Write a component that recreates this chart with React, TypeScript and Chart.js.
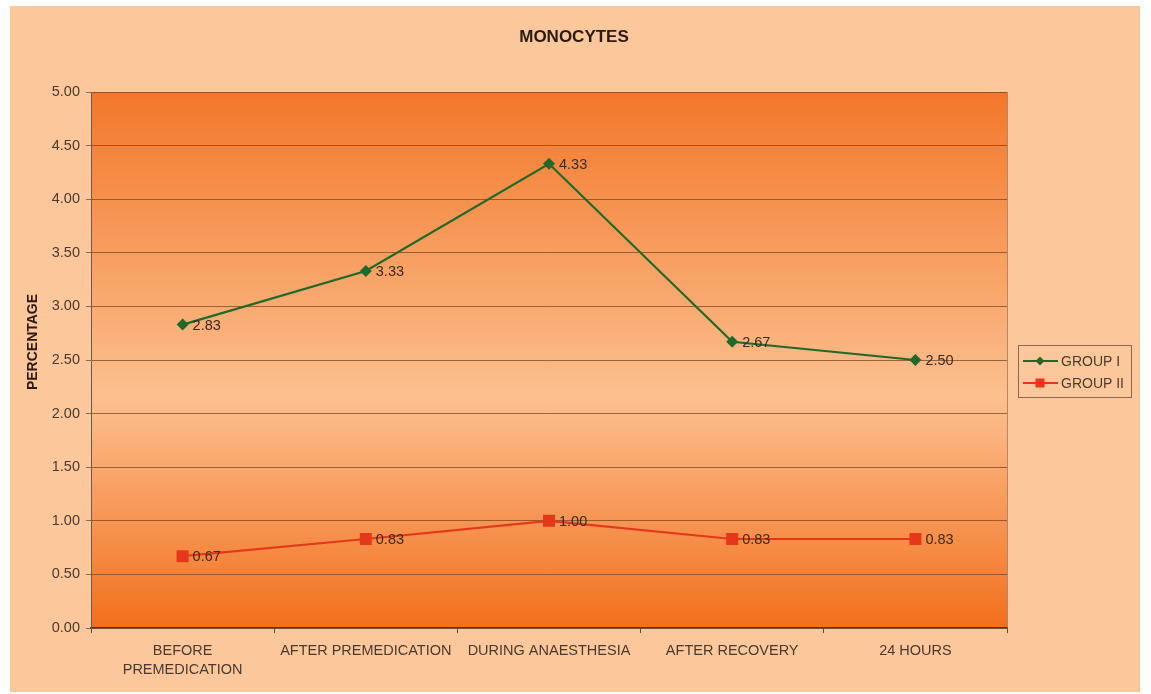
import React, { useEffect, useRef } from "react";
import { Chart, registerables } from "chart.js";

Chart.register(...registerables);

const categories: (string | string[])[] = [
  ["BEFORE", "PREMEDICATION"],
  "AFTER PREMEDICATION",
  "DURING ANAESTHESIA",
  "AFTER RECOVERY",
  "24 HOURS",
];
const groupOne = [2.83, 3.33, 4.33, 2.67, 2.5];
const groupTwo = [0.67, 0.83, 1.0, 0.83, 0.83];
const seriesNames = ["GROUP I", "GROUP II"];
const chartTitle = "MONOCYTES";
const yAxisTitle = "PERCENTAGE";

const FONT = "Arial, 'Liberation Sans', sans-serif";
const GREEN = "#1f6a2a";
const RED = "#e5381a";
const TEXT = "#3a2c22";

// Peach panel, plot-area gradient, titles and the legend box
const decorations = {
  id: "decorations",
  beforeDraw(chart: any) {
    const { ctx, chartArea } = chart;
    const { left, right, top, bottom } = chartArea;
    ctx.save();
    ctx.fillStyle = "#ffffff";
    ctx.fillRect(0, 0, chart.width, chart.height);
    ctx.fillStyle = "#fcc89b";
    ctx.fillRect(10, 6, 1130, 686);

    const g = ctx.createLinearGradient(0, top, 0, bottom);
    g.addColorStop(0, "#f3772a");
    g.addColorStop(0.57, "#fcc08f");
    g.addColorStop(1, "#f26f1d");
    ctx.fillStyle = g;
    ctx.fillRect(left, top, right - left, bottom - top);
    ctx.restore();
  },
  afterDraw(chart: any) {
    const { ctx, chartArea } = chart;
    ctx.save();
    // plot border on right side
    ctx.strokeStyle = "rgba(140,90,60,0.6)";
    ctx.lineWidth = 1;
    ctx.beginPath();
    ctx.moveTo(chartArea.right + 0.5, chartArea.top);
    ctx.lineTo(chartArea.right + 0.5, chartArea.bottom);
    ctx.stroke();

    // chart title
    ctx.fillStyle = "#2a1a12";
    ctx.font = `bold 17px ${FONT}`;
    ctx.textAlign = "center";
    ctx.textBaseline = "middle";
    ctx.fillText(chartTitle, 574, 37);

    // y axis title
    ctx.save();
    ctx.translate(33, 342);
    ctx.rotate(-Math.PI / 2);
    ctx.font = `bold 14px ${FONT}`;
    ctx.fillStyle = "#2a1a12";
    ctx.fillText(yAxisTitle, 0, 0);
    ctx.restore();

    // data labels
    ctx.font = `14.5px ${FONT}`;
    ctx.fillStyle = TEXT;
    ctx.textAlign = "left";
    ctx.textBaseline = "middle";
    chart.data.datasets.forEach((ds: any, i: number) => {
      const meta = chart.getDatasetMeta(i);
      meta.data.forEach((pt: any, j: number) => {
        ctx.fillText(Number(ds.data[j]).toFixed(2), pt.x + 10, pt.y + 1);
      });
    });

    // legend
    const lx = 1018, ly = 345, lw = 113, lh = 52;
    ctx.strokeStyle = "rgba(110,80,60,0.8)";
    ctx.lineWidth = 1;
    ctx.strokeRect(lx + 0.5, ly + 0.5, lw, lh);
    const entries = [
      { name: seriesNames[0], color: GREEN, y: ly + 16, shape: "diamond" },
      { name: seriesNames[1], color: RED, y: ly + 38, shape: "square" },
    ];
    entries.forEach((e) => {
      ctx.strokeStyle = e.color;
      ctx.lineWidth = 2;
      ctx.beginPath();
      ctx.moveTo(lx + 5, e.y);
      ctx.lineTo(lx + 40, e.y);
      ctx.stroke();
      ctx.fillStyle = e.color;
      const cx = lx + 22;
      if (e.shape === "diamond") {
        ctx.beginPath();
        ctx.moveTo(cx, e.y - 4.5);
        ctx.lineTo(cx + 4.5, e.y);
        ctx.lineTo(cx, e.y + 4.5);
        ctx.lineTo(cx - 4.5, e.y);
        ctx.closePath();
        ctx.fill();
      } else {
        ctx.fillRect(cx - 4.5, e.y - 4.5, 9, 9);
      }
      ctx.fillStyle = "#4a3a30";
      ctx.font = `14px ${FONT}`;
      ctx.textAlign = "left";
      ctx.fillText(e.name, lx + 43, e.y + 1);
    });
    ctx.restore();
  },
};

export default function App() {
  const ref = useRef<HTMLCanvasElement | null>(null);

  useEffect(() => {
    if (!ref.current) return;
    const chart = new Chart(ref.current, {
      type: "line",
      data: {
        labels: categories,
        datasets: [
          {
            label: seriesNames[0],
            data: groupOne,
            borderColor: GREEN,
            backgroundColor: GREEN,
            borderWidth: 2.2,
            pointStyle: "rectRot",
            pointRadius: 6,
            pointBorderWidth: 0,
            tension: 0,
          },
          {
            label: seriesNames[1],
            data: groupTwo,
            borderColor: RED,
            backgroundColor: RED,
            borderWidth: 2.2,
            pointStyle: "rect",
            pointRadius: 8.5,
            pointBorderWidth: 0,
            tension: 0,
          },
        ],
      },
      options: {
        responsive: false,
        animation: false,
        layout: { padding: { left: 0, top: 92, right: 144, bottom: 6 } },
        plugins: {
          legend: { display: false },
          title: { display: false },
          tooltip: { enabled: false },
        },
        scales: {
          x: {
            offset: true,
            grid: {
              offset: true,
              drawOnChartArea: false,
              drawTicks: true,
              tickLength: 5,
              color: "#5a4a40",
            },
            border: { color: "#4a3a32", width: 1.5 },
            ticks: {
              color: "#4a3a30",
              font: { family: FONT, size: 14.5, lineHeight: 1.35 },
              padding: 8,
              maxRotation: 0,
              autoSkip: false,
            },
            afterFit(scale: any) {
              scale.height = 60;
            },
          },
          y: {
            min: 0,
            max: 5,
            ticks: {
              stepSize: 0.5,
              color: "#4a3a30",
              font: { family: FONT, size: 14.5 },
              padding: 6,
              callback: (v: any) => Number(v).toFixed(2),
            },
            grid: {
              color: "rgba(125,70,35,0.75)",
              lineWidth: 1,
              tickLength: 5,
              drawTicks: true,
            },
            border: { color: "#6a5a50", width: 1 },
            afterFit(scale: any) {
              scale.width = 91;
            },
          },
        },
      },
      plugins: [decorations],
    });
    return () => chart.destroy();
  }, []);

  return (
    <div style={{ position: "absolute", left: 0, top: 0, width: 1151, height: 694 }}>
      <canvas ref={ref} width={1151} height={694} style={{ display: "block" }} />
    </div>
  );
}
